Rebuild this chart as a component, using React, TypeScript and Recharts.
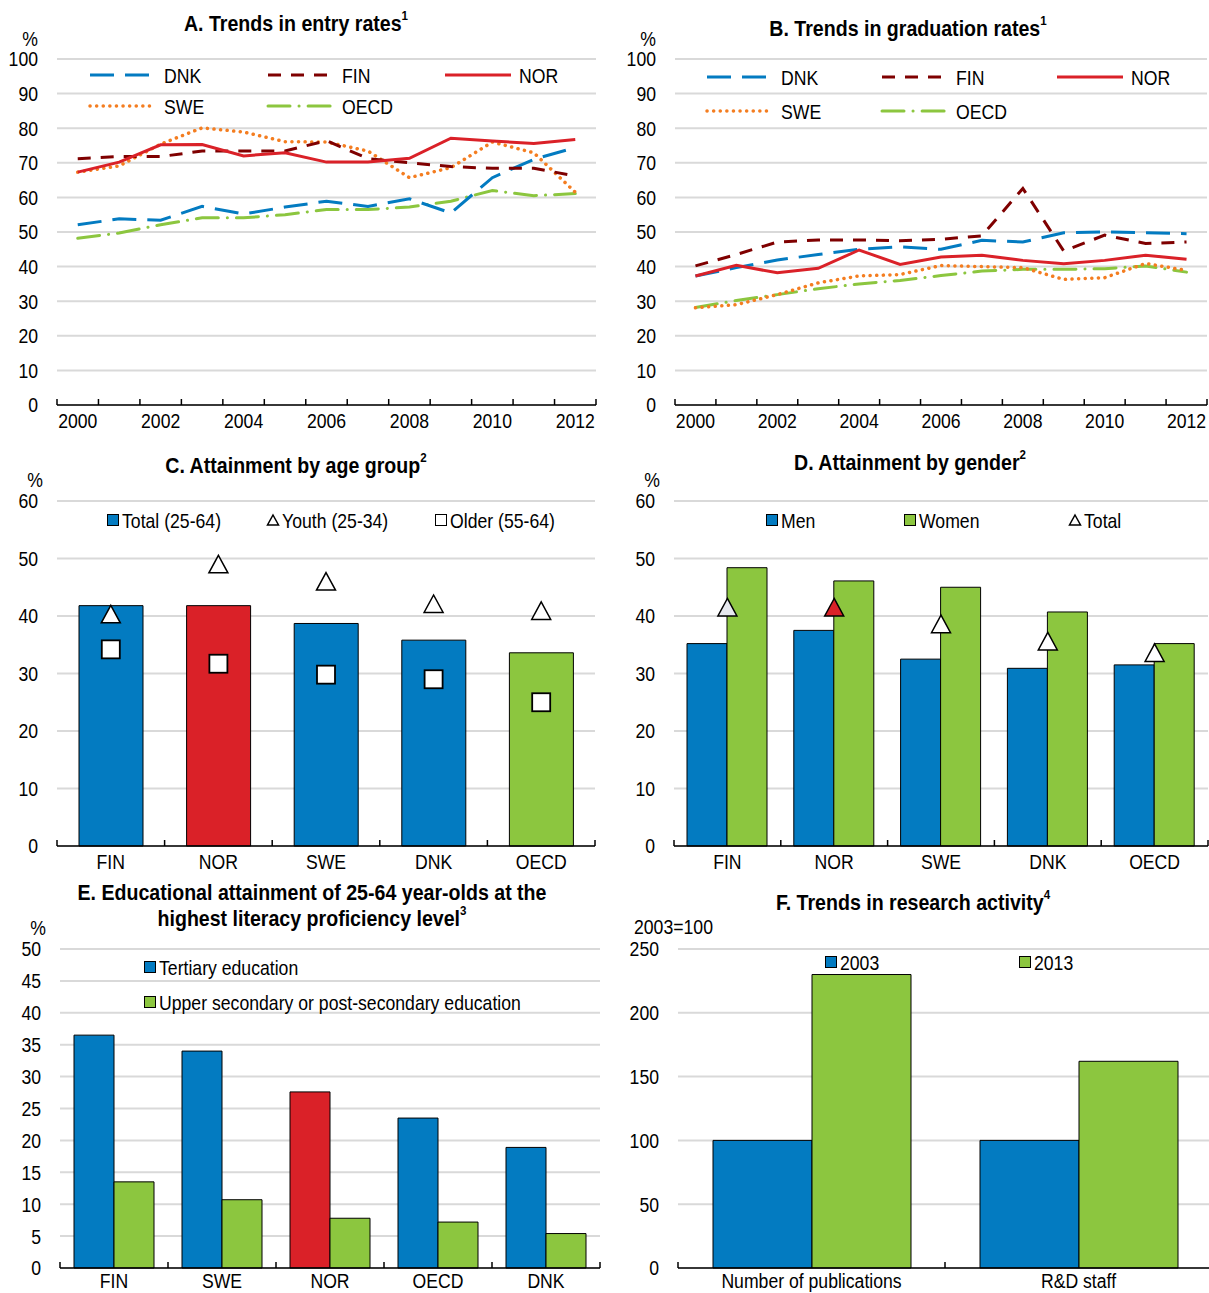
import React from "react";
import { ComposedChart, Line, Bar, Cell, XAxis, YAxis, CartesianGrid } from "recharts";

const FONT = "'Liberation Sans Narrow', 'Arial Narrow', 'Liberation Sans', Arial, sans-serif";
const NARROW = 0.84; // no narrow face installed, squeeze the regular one
const BLUE = "#037BC1";
const RED = "#DA2128";
const DKRED = "#7F0000";
const ORANGE = "#F47D20";
const GREEN = "#8CC63F";
const GRID = "#d9d9d9";

// A / B: years
const years = ["2000", "2001", "2002", "2003", "2004", "2005", "2006", "2007", "2008", "2009", "2010", "2011", "2012"];
const entryDNK = [52.1, 53.8, 53.4, 57.4, 55.2, 57.2, 58.9, 57.4, 59.6, 55.5, 65.7, 71.0, 74.4];
const entryFIN = [71.2, 71.8, 71.8, 73.4, 73.4, 73.4, 76.4, 71.2, 70.0, 68.9, 68.4, 68.4, 66.2];
const entryNOR = [67.3, 70.2, 75.2, 75.3, 72.0, 72.9, 70.2, 70.2, 71.3, 77.1, 76.3, 75.6, 76.7];
const entrySWE = [67.3, 69.1, 75.4, 80.1, 78.9, 76.1, 76.0, 73.4, 65.7, 68.6, 76.0, 72.9, 61.5];
const entryOECD = [48.2, 49.7, 52.1, 54.1, 54.1, 55.0, 56.5, 56.5, 57.2, 58.9, 62.0, 60.5, 61.1];

const gradDNK = [37.3, 39.7, 41.9, 43.5, 45.0, 45.7, 45.0, 47.6, 47.1, 49.8, 50.0, 49.8, 49.5];
const gradFIN = [40.2, 43.5, 47.1, 47.7, 47.7, 47.5, 47.9, 48.9, 62.6, 44.5, 49.1, 46.7, 47.1];
const gradNOR = [37.3, 40.4, 38.2, 39.5, 44.8, 40.6, 42.8, 43.3, 41.8, 40.8, 41.8, 43.3, 42.1];
const gradSWE = [28.1, 29.0, 31.9, 35.3, 37.3, 37.7, 40.3, 40.0, 39.7, 36.3, 36.8, 40.9, 38.9];
const gradOECD = [28.2, 30.2, 31.9, 33.6, 35.0, 36.0, 37.4, 38.7, 39.2, 39.2, 39.4, 40.2, 38.4];

// C / D
const attCountries = ["FIN", "NOR", "SWE", "DNK", "OECD"];
const ageTotal = [41.8, 41.8, 38.7, 35.8, 33.6];
const ageYouth = [40.2, 48.9, 45.9, 42.0, 40.8];
const ageOlder = [34.2, 31.7, 29.8, 29.0, 25.0];
const genMen = [35.2, 37.5, 32.5, 30.9, 31.5];
const genWomen = [48.4, 46.1, 45.0, 40.7, 35.2];
const genTotal = [41.4, 41.4, 38.5, 35.5, 33.5];

// E
const litCountries = ["FIN", "SWE", "NOR", "OECD", "DNK"];
const litTertiary = [36.5, 34.0, 27.6, 23.5, 18.9];
const litUpper = [13.5, 10.7, 7.8, 7.2, 5.4];

// F
const resCats = ["Number of publications", "R&D staff"];
const res2003 = [100, 100];
const res2013 = [230, 162];

const ticks100 = [0, 10, 20, 30, 40, 50, 60, 70, 80, 90, 100];
const ticks60 = [0, 10, 20, 30, 40, 50, 60];
const ticks50 = [0, 5, 10, 15, 20, 25, 30, 35, 40, 45, 50];
const ticks250 = [0, 50, 100, 150, 200, 250];

const entryData = years.map((y, i) => ({ year: y, DNK: entryDNK[i], FIN: entryFIN[i], NOR: entryNOR[i], SWE: entrySWE[i], OECD: entryOECD[i] }));
const gradData = years.map((y, i) => ({ year: y, DNK: gradDNK[i], FIN: gradFIN[i], NOR: gradNOR[i], SWE: gradSWE[i], OECD: gradOECD[i] }));
const ageData = attCountries.map((c, i) => ({ name: c, total: ageTotal[i], youth: ageYouth[i], older: ageOlder[i] }));
const genData = attCountries.map((c, i) => ({ name: c, men: genMen[i], women: genWomen[i], total: genTotal[i] }));
const litData = litCountries.map((c, i) => ({ name: c, tertiary: litTertiary[i], upper: litUpper[i] }));
const resData = resCats.map((c, i) => ({ name: c, y2003: res2003[i], y2013: res2013[i] }));

const ageColors = [BLUE, RED, BLUE, BLUE, GREEN];
const litColors = [BLUE, BLUE, RED, BLUE, BLUE];
const genTriFill = ["#E6E8EE", RED, "#fff", "#fff", "#fff"];

const FS = 21;
const YW = 56;

type Plot = { x: number; y: number; w: number; h: number };

function frame(p: Plot) {
  const top = 12;
  const bottom = 40;
  return {
    style: { position: "absolute" as const, left: p.x - YW, top: p.y - top },
    width: YW + p.w + 4,
    height: top + p.h + bottom,
    margin: { top, right: 4, bottom: bottom - 30, left: 0 },
  };
}

// category tick: label at centre, small inward ticks at band edges
function catTick(n: number, bw: number, every = 1, gap = 8) {
  return (props: any) => {
    const { x, y, payload } = props;
    const i = payload.index ?? props.index ?? 0;
    return (
      <g>
        <line x1={x - bw / 2} x2={x - bw / 2} y1={y} y2={y - 6} stroke="#000" strokeWidth={1.5} />
        {i === n - 1 && <line x1={x + bw / 2} x2={x + bw / 2} y1={y} y2={y - 6} stroke="#000" strokeWidth={1.5} />}
        {i % every === 0 && (
          <text transform={`translate(${x},${y + gap}) scale(${NARROW},1)`} dy="0.71em" textAnchor="middle" fontSize={FS} fontFamily={FONT} fill="#000">
            {payload.value}
          </text>
        )}
      </g>
    );
  };
}

const valTick = (props: any) => {
  const { x, y, payload } = props;
  return (
    <text transform={`translate(${x},${y}) scale(${NARROW},1)`} dy="0.355em" textAnchor="end" fontSize={FS} fontFamily={FONT} fill="#000">
      {payload.value}
    </text>
  );
};

const tri = (fills?: string[]) => (p: any) => {
  const { cx, cy, index } = p;
  if (cx == null || cy == null) return <g key={index} />;
  const f = fills ? fills[index] : "#fff";
  return <path key={index} d={`M${cx},${cy - 9.5}L${cx + 9.5},${cy + 8}L${cx - 9.5},${cy + 8}Z`} fill={f} stroke="#000" strokeWidth={1.5} />;
};

const sq = (p: any) => {
  const { cx, cy, index } = p;
  if (cx == null || cy == null) return <g key={index} />;
  return <rect key={index} x={cx - 9} y={cy - 9} width={18} height={18} fill="#fff" stroke="#000" strokeWidth={1.8} />;
};

function yAxis(ticks: number[]) {
  return (
    <YAxis
      type="number"
      domain={[ticks[0], ticks[ticks.length - 1]]}
      ticks={ticks}
      interval={0}
      width={YW}
      axisLine={false}
      tickLine={false}
      tickSize={0}
      tickMargin={19}
      tick={valTick}
    />
  );
}

const lineStyles: Record<string, { stroke: string; dash?: string; w: number }> = {
  DNK: { stroke: BLUE, dash: "24 11", w: 3 },
  FIN: { stroke: DKRED, dash: "13 10", w: 3 },
  NOR: { stroke: RED, w: 3 },
  SWE: { stroke: ORANGE, dash: "0.1 6.5", w: 3.5 },
  OECD: { stroke: GREEN, dash: "22 9 0.1 9", w: 3 },
};
const seriesOrder = ["OECD", "DNK", "SWE", "FIN", "NOR"];

function TrendChart({ data, plot }: { data: any[]; plot: Plot }) {
  const f = frame(plot);
  const bw = plot.w / years.length;
  return (
    <div style={f.style}>
      <ComposedChart width={f.width} height={f.height} data={data} margin={f.margin}>
        <CartesianGrid vertical={false} stroke={GRID} strokeWidth={2} />
        {yAxis(ticks100)}
        <XAxis dataKey="year" scale="band" interval={0} height={30} tickSize={0} tickMargin={0} tickLine={false} axisLine={{ stroke: "#000", strokeWidth: 1.5 }} tick={catTick(years.length, bw, 2)} />
        {seriesOrder.map((k) => (
          <Line
            key={k}
            dataKey={k}
            stroke={lineStyles[k].stroke}
            strokeWidth={lineStyles[k].w}
            strokeDasharray={lineStyles[k].dash}
            strokeLinecap={k === "SWE" || k === "OECD" ? "round" : "butt"}
            dot={false}
            activeDot={false}
            isAnimationActive={false}
          />
        ))}
      </ComposedChart>
    </div>
  );
}

function Txt({ x, y, children, size = FS, bold = false, center = false, squeeze = NARROW }: any) {
  return (
    <div
      style={{
        position: "absolute",
        left: x,
        top: y,
        transform: center ? `translate(-50%, -50%) scaleX(${squeeze})` : `translateY(-50%) scaleX(${squeeze})`,
        transformOrigin: center ? "50% 50%" : "0 50%",
        fontFamily: FONT,
        fontSize: size,
        fontWeight: bold ? "bold" : "normal",
        lineHeight: 1,
        whiteSpace: "nowrap",
        color: "#000",
        textAlign: "center",
      }}
    >
      {children}
    </div>
  );
}

function Title({ x, y, text, note }: { x: number; y: number; text: string; note: string }) {
  return (
    <Txt x={x} y={y} size={22} bold center squeeze={0.89}>
      {text}
      <sup style={{ fontSize: 13, position: "relative", top: -2 }}>{note}</sup>
    </Txt>
  );
}

function LineKey({ x, y, name, w = 70 }: { x: number; y: number; name: string; w?: number }) {
  const s = lineStyles[name];
  return (
    <>
      <svg style={{ position: "absolute", left: x, top: y - 6 }} width={w} height={12}>
        <line x1={2} x2={w - 2} y1={6} y2={6} stroke={s.stroke} strokeWidth={s.w} strokeDasharray={s.dash} strokeLinecap={name === "SWE" || name === "OECD" ? "round" : "butt"} />
      </svg>
      <Txt x={x + w + 6} y={y}>{name}</Txt>
    </>
  );
}

function BoxKey({ x, y, fill, label }: { x: number; y: number; fill: string; label: string }) {
  return (
    <>
      <div style={{ position: "absolute", left: x, top: y - 6, width: 10, height: 10, background: fill, border: "1.5px solid #000" }} />
      <Txt x={x + 15} y={y}>{label}</Txt>
    </>
  );
}

function TriKey({ x, y, label }: { x: number; y: number; label: string }) {
  return (
    <>
      <svg style={{ position: "absolute", left: x, top: y - 7 }} width={14} height={14}>
        <path d="M7,2L12.5,12L1.5,12Z" fill="#fff" stroke="#000" strokeWidth={1.5} />
      </svg>
      <Txt x={x + 16} y={y}>{label}</Txt>
    </>
  );
}

export default function App() {
  const pA = { x: 57, y: 59, w: 539, h: 346 };
  const pB = { x: 675, y: 59, w: 532, h: 346 };
  const pC = { x: 57, y: 501, w: 538, h: 345 };
  const pD = { x: 674, y: 501, w: 534, h: 345 };
  const pE = { x: 60, y: 949, w: 540, h: 319 };
  const pF = { x: 678, y: 949, w: 534, h: 319 };
  const fC = frame(pC);
  const fD = frame(pD);
  const fE = frame(pE);
  const fF = frame(pF);
  const xAxisLine = { stroke: "#000", strokeWidth: 1.5 };

  return (
    <div style={{ position: "absolute", left: 0, top: 0, width: 1209, height: 1293, overflow: "hidden", background: "#fff" }}>
      {/* A */}
      <Title x={296} y={23} text="A. Trends in entry rates" note="1" />
      <Txt x={30} y={38} center>%</Txt>
      <TrendChart data={entryData} plot={pA} />
      <LineKey x={88} y={75} name="DNK" />
      <LineKey x={266} y={75} name="FIN" />
      <LineKey x={443} y={75} name="NOR" />
      <LineKey x={88} y={106} name="SWE" />
      <LineKey x={266} y={106} name="OECD" />

      {/* B */}
      <Title x={908} y={28} text="B. Trends in graduation rates" note="1" />
      <Txt x={648} y={38} center>%</Txt>
      <TrendChart data={gradData} plot={pB} />
      <LineKey x={705} y={77} name="DNK" />
      <LineKey x={880} y={77} name="FIN" />
      <LineKey x={1055} y={77} name="NOR" />
      <LineKey x={705} y={111} name="SWE" />
      <LineKey x={880} y={111} name="OECD" />

      {/* C */}
      <Title x={296} y={465} text="C. Attainment by age group" note="2" />
      <Txt x={35} y={479} center>%</Txt>
      <div style={fC.style}>
        <ComposedChart width={fC.width} height={fC.height} data={ageData} margin={fC.margin} barSize={64}>
          <CartesianGrid vertical={false} stroke={GRID} strokeWidth={2} />
          {yAxis(ticks60)}
          <Bar dataKey="total" stroke="#000" strokeWidth={1} isAnimationActive={false}>
            {ageData.map((d, i) => (
              <Cell key={d.name} fill={ageColors[i]} />
            ))}
          </Bar>
          <Line dataKey="youth" stroke="none" dot={tri()} activeDot={false} isAnimationActive={false} />
          <Line dataKey="older" stroke="none" dot={sq} activeDot={false} isAnimationActive={false} />
          <XAxis dataKey="name" interval={0} height={30} tickSize={0} tickMargin={0} tickLine={false} axisLine={xAxisLine} tick={catTick(5, pC.w / 5)} />
        </ComposedChart>
      </div>
      <BoxKey x={107} y={520} fill={BLUE} label="Total (25-64)" />
      <TriKey x={266} y={520} label="Youth (25-34)" />
      <BoxKey x={435} y={520} fill="#fff" label="Older (55-64)" />

      {/* D */}
      <Title x={910} y={462} text="D. Attainment by gender" note="2" />
      <Txt x={652} y={479} center>%</Txt>
      <div style={fD.style}>
        <ComposedChart width={fD.width} height={fD.height} data={genData} margin={fD.margin} barSize={40} barGap={0}>
          <CartesianGrid vertical={false} stroke={GRID} strokeWidth={2} />
          {yAxis(ticks60)}
          <Bar dataKey="men" fill={BLUE} stroke="#000" strokeWidth={1} isAnimationActive={false} />
          <Bar dataKey="women" fill={GREEN} stroke="#000" strokeWidth={1} isAnimationActive={false} />
          <Line dataKey="total" stroke="none" dot={tri(genTriFill)} activeDot={false} isAnimationActive={false} />
          <XAxis dataKey="name" interval={0} height={30} tickSize={0} tickMargin={0} tickLine={false} axisLine={xAxisLine} tick={catTick(5, pD.w / 5)} />
        </ComposedChart>
      </div>
      <BoxKey x={766} y={520} fill={BLUE} label="Men" />
      <BoxKey x={904} y={520} fill={GREEN} label="Women" />
      <TriKey x={1068} y={520} label="Total" />

      {/* E */}
      <Title x={312} y={892} text="E. Educational attainment of 25-64 year-olds at the" note="" />
      <Title x={312} y={918} text="highest literacy proficiency level" note="3" />
      <Txt x={38} y={927} center>%</Txt>
      <div style={fE.style}>
        <ComposedChart width={fE.width} height={fE.height} data={litData} margin={fE.margin} barSize={40} barGap={0}>
          <CartesianGrid vertical={false} stroke={GRID} strokeWidth={2} />
          {yAxis(ticks50)}
          <Bar dataKey="tertiary" stroke="#000" strokeWidth={1} isAnimationActive={false}>
            {litData.map((d, i) => (
              <Cell key={d.name} fill={litColors[i]} />
            ))}
          </Bar>
          <Bar dataKey="upper" fill={GREEN} stroke="#000" strokeWidth={1} isAnimationActive={false} />
          <XAxis dataKey="name" interval={0} height={30} tickSize={0} tickMargin={0} tickLine={false} axisLine={xAxisLine} tick={catTick(5, pE.w / 5, 1, 5)} />
        </ComposedChart>
      </div>
      <BoxKey x={144} y={967} fill={BLUE} label="Tertiary education" />
      <BoxKey x={144} y={1002} fill={GREEN} label="Upper secondary or post-secondary education" />

      {/* F */}
      <Title x={913} y={902} text="F. Trends in research activity" note="4" />
      <Txt x={634} y={926}>2003=100</Txt>
      <div style={fF.style}>
        <ComposedChart width={fF.width} height={fF.height} data={resData} margin={fF.margin} barSize={99} barGap={0}>
          <CartesianGrid vertical={false} stroke={GRID} strokeWidth={2} />
          {yAxis(ticks250)}
          <Bar dataKey="y2003" fill={BLUE} stroke="#000" strokeWidth={1} isAnimationActive={false} />
          <Bar dataKey="y2013" fill={GREEN} stroke="#000" strokeWidth={1} isAnimationActive={false} />
          <XAxis dataKey="name" interval={0} height={30} tickSize={0} tickMargin={0} tickLine={false} axisLine={xAxisLine} tick={catTick(2, pF.w / 2, 1, 5)} />
        </ComposedChart>
      </div>
      <BoxKey x={825} y={962} fill={BLUE} label="2003" />
      <BoxKey x={1019} y={962} fill={GREEN} label="2013" />
    </div>
  );
}
